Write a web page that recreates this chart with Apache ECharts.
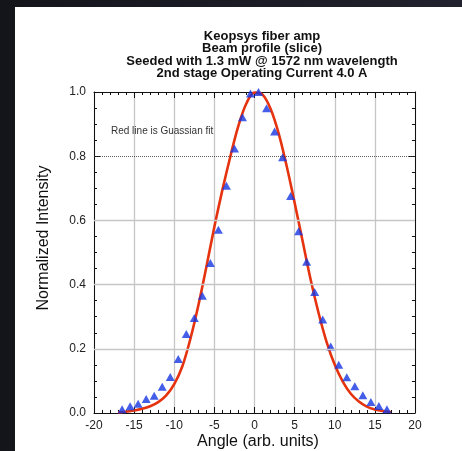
<!DOCTYPE html>
<html>
<head>
<meta charset="utf-8">
<script src="https://cdn.jsdelivr.net/npm/echarts@6/dist/echarts.min.js"></script>
<style>
  html, body { margin: 0; padding: 0; }
  body { width: 462px; height: 451px; background: linear-gradient(90deg, #14141b 0%, #22222e 100%); position: relative; overflow: hidden; }
  #sheet { position: absolute; left: 15px; top: 7px; width: 447px; height: 444px; background: #ffffff; }
  #chart { position: absolute; left: 0; top: 0; width: 462px; height: 451px; }
</style>
</head>
<body>
<div id="sheet"></div>
<div id="chart"></div>
<script>
// Measured beam profile (slice): angle in arbitrary units vs normalized intensity
const angles = [-16.5, -15.5, -14.5, -13.5, -12.5, -11.5, -10.5, -9.5, -8.5, -7.5, -6.5, -5.5,
                -4.5, -3.5, -2.5, -1.5, -0.5, 0.5, 1.5, 2.5, 3.5, 4.5, 5.5,
                6.5, 7.5, 8.5, 9.5, 10.5, 11.5, 12.5, 13.5, 14.5, 15.5, 16.5];
const intensity = [0.012, 0.021, 0.029, 0.044, 0.054, 0.082, 0.112, 0.168, 0.246, 0.296, 0.365, 0.467,
                   0.571, 0.708, 0.824, 0.921, 0.995, 1.000, 0.949, 0.877, 0.797, 0.676, 0.566,
                   0.471, 0.377, 0.291, 0.207, 0.150, 0.111, 0.083, 0.055, 0.034, 0.022, 0.012];

// Gaussian fit curve, sampled at whole angle steps
const fitAngles = [-17, -16, -15, -14, -13, -12, -11, -10, -9, -8, -7, -6, -5, -4, -3, -2, -1, 0,
                   1, 2, 3, 4, 5, 6, 7, 8, 9, 10, 11, 12, 13, 14, 15, 16, 17];
const fitIntensity = [0.002, 0.004, 0.008, 0.013, 0.021, 0.034, 0.055, 0.090, 0.145, 0.230, 0.335, 0.455,
                      0.580, 0.695, 0.800, 0.895, 0.965, 0.998, 0.992, 0.948, 0.872, 0.770, 0.655, 0.535,
                      0.415, 0.310, 0.220, 0.150, 0.098, 0.060, 0.036, 0.020, 0.011, 0.006, 0.003];

const xTickLabels = ['-20', '-15', '-10', '-5', '0', '5', '10', '15', '20'];
const yTickLabels = ['0.0', '0.2', '0.4', '0.6', '0.8', '1.0'];
const grayGridLevels = [0.2, 0.4, 0.6];
const dottedLevel = 0.8;

const titleLines = [
  'Keopsys fiber amp',
  'Beam profile (slice)',
  'Seeded with 1.3 mW @ 1572 nm wavelength',
  '2nd stage Operating Current 4.0 A'
];
const xName = 'Angle (arb. units)';
const yName = 'Normalized Intensity';
const note = 'Red line is Guassian fit';

const FONT = '"Liberation Sans", Arial, Helvetica, sans-serif';
const X_MIN = -20, X_MAX = 20, X_STEP = 5;
const Y_MIN = 0, Y_MAX = 1, Y_STEP = 0.2;

const zip = (xs, ys) => xs.map((x, i) => [x, ys[i]]);

function xAxisCfg(pos, showLabels) {
  return {
    type: 'value', position: pos, min: X_MIN, max: X_MAX, interval: X_STEP,
    axisLine: { show: true, onZero: false, lineStyle: { color: '#111', width: 1 } },
    axisTick: { show: true, inside: true, length: 6, lineStyle: { color: '#111', width: 1 } },
    minorTick: { show: true, splitNumber: 5, length: 3, lineStyle: { color: '#111', width: 1 } },
    axisLabel: {
      show: showLabels, margin: 7, color: '#222', fontSize: 12, fontFamily: FONT,
      formatter: v => xTickLabels[Math.round((v - X_MIN) / X_STEP)]
    },
    splitLine: { show: showLabels, lineStyle: { color: '#c6c6c6', width: 1.3 } }
  };
}

function yAxisCfg(pos, showLabels) {
  return {
    type: 'value', position: pos, min: Y_MIN, max: Y_MAX, interval: Y_STEP,
    axisLine: { show: true, onZero: false, lineStyle: { color: '#111', width: 1 } },
    axisTick: { show: true, inside: true, length: 6, lineStyle: { color: '#111', width: 1 } },
    minorTick: { show: true, splitNumber: 4, length: 3, lineStyle: { color: '#111', width: 1 } },
    axisLabel: {
      show: showLabels, margin: 8, color: '#222', fontSize: 12, fontFamily: FONT,
      formatter: v => yTickLabels[Math.round((v - Y_MIN) / Y_STEP)]
    },
    splitLine: { show: false }
  };
}

const chart = echarts.init(document.getElementById('chart'), null, { renderer: 'canvas' });

chart.setOption({
  backgroundColor: 'transparent',
  animation: false,
  title: {
    text: titleLines.join('\n'),
    left: 257, top: 25, textAlign: 'center',
    textStyle: { fontFamily: FONT, fontSize: 13, fontWeight: 'bold', color: '#111', lineHeight: 12.5 }
  },
  grid: { left: 94, top: 92, right: 47, bottom: 38, containLabel: false },
  xAxis: [xAxisCfg('bottom', true), xAxisCfg('top', false)],
  yAxis: [yAxisCfg('left', true), yAxisCfg('right', false)],
  graphic: [
    {
      type: 'text', x: 44, y: 238, rotation: Math.PI / 2,
      style: { text: yName, font: '16px ' + FONT, fill: '#111', textAlign: 'center', textVerticalAlign: 'middle' }
    },
    {
      type: 'text', x: 258, y: 442,
      style: { text: xName, font: '16px ' + FONT, fill: '#111', textAlign: 'center', textVerticalAlign: 'middle' }
    },
    {
      type: 'text', x: 111, y: 131, z: 10,
      style: { text: note, font: '10px ' + FONT, fill: '#333', textAlign: 'left', textVerticalAlign: 'middle' }
    }
  ],
  series: [
    {
      // horizontal reference lines
      type: 'line', data: [], silent: true,
      markLine: {
        silent: true, symbol: 'none', label: { show: false },
        data: grayGridLevels.map(v => ({ yAxis: v, lineStyle: { color: '#c6c6c6', width: 1.3, type: 'solid' } }))
          .concat([{ yAxis: dottedLevel, lineStyle: { color: '#333', width: 0.8, type: [1, 1] } }])
      }
    },
    {
      name: 'Gaussian fit', type: 'line', data: zip(fitAngles, fitIntensity),
      smooth: 0.35, showSymbol: false, symbol: 'none',
      lineStyle: { color: '#e5330f', width: 2.6 }, z: 3
    },
    {
      name: 'Measured', type: 'scatter', data: zip(angles, intensity),
      symbol: 'triangle', symbolSize: [9, 8],
      itemStyle: { color: '#1536e2' }, z: 4
    }
  ]
});
</script>
</body>
</html>
